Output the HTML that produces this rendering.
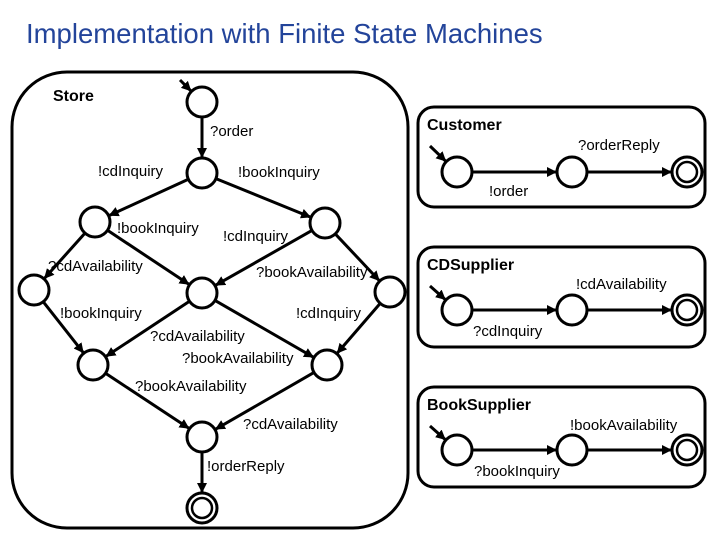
<!DOCTYPE html>
<html><head><meta charset="utf-8"><style>
body{margin:0;background:#fff;width:720px;height:540px;overflow:hidden}
svg{position:absolute;left:0;top:0}
text{font-family:"Liberation Sans",sans-serif;font-size:15px;fill:#000}
.b{font-weight:bold;font-size:16px}
</style></head><body>
<svg id="s" width="720" height="540" xmlns="http://www.w3.org/2000/svg">
<defs><marker id="a" markerWidth="10" markerHeight="10" refX="9" refY="5" orient="auto" markerUnits="userSpaceOnUse"><path d="M0,0 L10,5 L0,10 z" fill="#000"/></marker></defs>
<text x="26" y="43" style="font-size:27.5px;fill:#23449a">Implementation with Finite State Machines</text>
<rect x="12" y="72" width="396" height="456" rx="55" ry="55" fill="none" stroke="#000" stroke-width="3"/>
<rect x="418" y="107" width="287" height="100" rx="16" fill="none" stroke="#000" stroke-width="3"/>
<rect x="418" y="247" width="287" height="100" rx="16" fill="none" stroke="#000" stroke-width="3"/>
<rect x="418" y="387" width="287" height="100" rx="16" fill="none" stroke="#000" stroke-width="3"/>
<text class="b" x="53" y="101">Store</text>
<text class="b" x="427" y="130">Customer</text>
<text class="b" x="427" y="270">CDSupplier</text>
<text class="b" x="427" y="410">BookSupplier</text>
<g id="e"></g><g id="n"></g>
<text x="210" y="136">?order</text>
<text x="98" y="176">!cdInquiry</text>
<text x="238" y="177">!bookInquiry</text>
<text x="117" y="233">!bookInquiry</text>
<text x="223" y="241">!cdInquiry</text>
<text x="48" y="271">?cdAvailability</text>
<text x="256" y="277">?bookAvailability</text>
<text x="60" y="318">!bookInquiry</text>
<text x="296" y="318">!cdInquiry</text>
<text x="150" y="341">?cdAvailability</text>
<text x="182" y="363">?bookAvailability</text>
<text x="135" y="391">?bookAvailability</text>
<text x="243" y="429">?cdAvailability</text>
<text x="207" y="471">!orderReply</text>
<text x="578" y="150">?orderReply</text>
<text x="489" y="196">!order</text>
<text x="576" y="289">!cdAvailability</text>
<text x="473" y="336">?cdInquiry</text>
<text x="570" y="430">!bookAvailability</text>
<text x="474" y="476">?bookInquiry</text>
</svg>
<script>
var N={t:[202,102],o:[202,173],L:[95,222],R:[325,223],FL:[34,290],M:[202,293],FR:[390,292],LL:[93,365],RL:[327,365],B:[202,437],F:[202,508],
c1:[457,172],c2:[572,172],c3:[687,172],d1:[457,310],d2:[572,310],d3:[687,310],k1:[457,450],k2:[572,450],k3:[687,450]};
var fin={F:1,c3:1,d3:1,k3:1};
var E=[["t","o"],["o","L"],["o","R"],["L","FL"],["L","M"],["R","M"],["R","FR"],["FL","LL"],["M","LL"],["M","RL"],["FR","RL"],["LL","B"],["RL","B"],["B","F"],
["c1","c2"],["c2","c3"],["d1","d2"],["d2","d3"],["k1","k2"],["k2","k3"]];
var ns="http://www.w3.org/2000/svg",eg=document.getElementById("e"),ng=document.getElementById("n");
function line(x1,y1,x2,y2){var l=document.createElementNS(ns,"line");l.setAttribute("x1",x1);l.setAttribute("y1",y1);l.setAttribute("x2",x2);l.setAttribute("y2",y2);l.setAttribute("stroke","#000");l.setAttribute("stroke-width","3");l.setAttribute("marker-end","url(#a)");eg.appendChild(l);}
E.forEach(function(e){var a=N[e[0]],b=N[e[1]],dx=b[0]-a[0],dy=b[1]-a[1],d=Math.hypot(dx,dy),ux=dx/d,uy=dy/d;
line(a[0]+ux*15,a[1]+uy*15,b[0]-ux*16,b[1]-uy*16);});
[["t",180,80],["c1",430,146],["d1",430,286],["k1",430,426]].forEach(function(s){var b=N[s[0]],dx=b[0]-s[1],dy=b[1]-s[2],d=Math.hypot(dx,dy);line(s[1],s[2],b[0]-dx/d*16,b[1]-dy/d*16);});
for(var k in N){var c=document.createElementNS(ns,"circle");c.setAttribute("cx",N[k][0]);c.setAttribute("cy",N[k][1]);c.setAttribute("r",15);c.setAttribute("fill","#fff");c.setAttribute("stroke","#000");c.setAttribute("stroke-width","3");ng.appendChild(c);
if(fin[k]){var c2=c.cloneNode();c2.setAttribute("r",10);c2.setAttribute("stroke-width","2.5");ng.appendChild(c2);}}
</script>
</body></html>
